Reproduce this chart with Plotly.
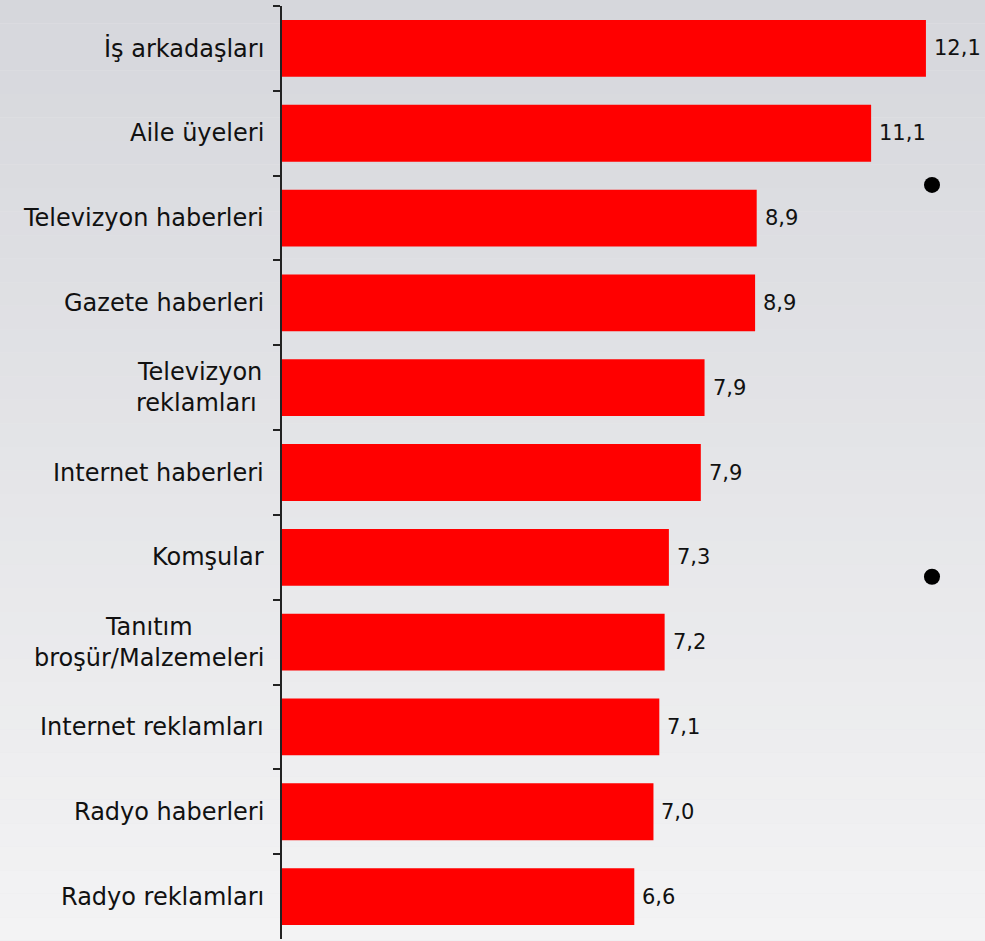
import plotly.graph_objects as go

# categories top to bottom
categories = [
    "İş arkadaşları",
    "Aile üyeleri",
    "Televizyon haberleri",
    "Gazete haberleri",
    "Televizyon<br>reklamları ",
    "Internet haberleri",
    "Komşular",
    "Tanıtım<br>broşür/Malzemeleri",
    "Internet reklamları",
    "Radyo haberleri",
    "Radyo reklamları",
]
values = [12.1, 11.07, 8.92, 8.89, 7.94, 7.87, 7.27, 7.19, 7.09, 6.98, 6.62]
value_labels = [f"{v:.1f}".replace(".", ",") for v in values]

FONT = "DejaVu Sans"

fig = go.Figure()
fig.add_trace(go.Bar(
    x=values, y=categories, orientation="h",
    marker=dict(color="#ff0000", line=dict(width=0)),
    hoverinfo="skip",
))

# background gradient (slide background)
shapes = []
n_bands = 40
top_c = (214, 215, 220)
bot_c = (243, 243, 244)
y_top, y_bot = 1.0065, -0.002
for i in range(n_bands):
    t = i / (n_bands - 1)
    c = tuple(int(round(top_c[k] + (bot_c[k] - top_c[k]) * t)) for k in range(3))
    y0 = y_top + (y_bot - y_top) * i / n_bands
    y1 = y_top + (y_bot - y_top) * (i + 1) / n_bands
    shapes.append(dict(type="rect", xref="paper", yref="paper",
                       x0=-0.41, x1=1.01, y0=y0, y1=y1,
                       fillcolor="rgb(%d,%d,%d)" % c, line=dict(width=0),
                       layer="below"))

# bullets from the slide
for y0, y1 in [(0.7997, 0.8168), (0.3797, 0.3969)]:
    shapes.append(dict(type="circle", xref="paper", yref="paper",
                       x0=0.9132, x1=0.936, y0=y0, y1=y1,
                       fillcolor="black", line=dict(width=0)))

annotations = []
# category labels, lines centred within each label
for cat in categories:
    annotations.append(dict(x=0, y=cat, xref="x", yref="y", text=cat,
                             showarrow=False, xanchor="right", align="center",
                             xshift=-16, font=dict(family=FONT, size=24, color="#111111")))
# value labels
for cat, v, lab in zip(categories, values, value_labels):
    annotations.append(dict(x=v, y=cat, xref="x", yref="y", text=lab,
                             showarrow=False, xanchor="left", xshift=6,
                             font=dict(family=FONT, size=21, color="#111111")))

fig.update_layout(
    width=985, height=941,
    margin=dict(l=282, r=0, t=6, b=2),
    paper_bgcolor="#e6e6e9",
    plot_bgcolor="rgba(0,0,0,0)",
    bargap=0.33,
    showlegend=False,
    shapes=shapes,
    annotations=annotations,
)
fig.update_xaxes(range=[0, 13.21], visible=False, showgrid=False, zeroline=False)
fig.update_yaxes(
    autorange="reversed", showticklabels=False, showgrid=False, zeroline=False,
    showline=True, linecolor="#222222", linewidth=2,
    ticks="outside", tickson="boundaries", ticklen=7, tickwidth=2, tickcolor="#222222",
)

fig.write_html("out.html", config={"displayModeBar": False},
               post_script="document.body.style.margin='0';")
